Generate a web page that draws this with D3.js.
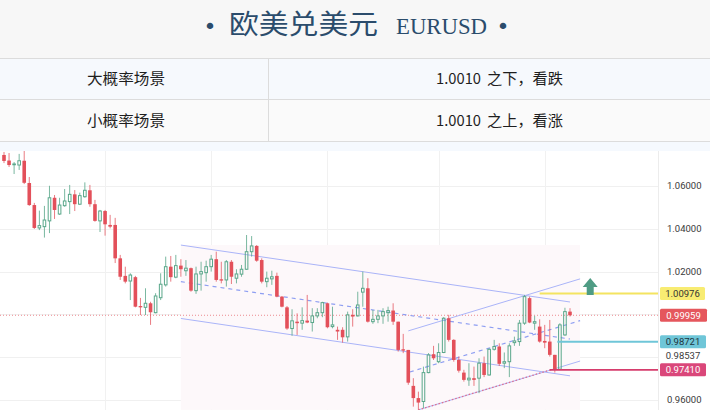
<!DOCTYPE html>
<html><head><meta charset="utf-8">
<script src="https://cdn.jsdelivr.net/npm/d3@7"></script>
<style>html,body{margin:0;padding:0;background:#fff;overflow:hidden}</style>
</head><body><svg id="c" width="710" height="410"></svg>
<script>
// ---------- data ----------
const titleCn = "欧美兑美元";
const titleCode = "EURUSD";
const scenarioNames = ["大概率场景", "小概率场景"];
const scenarioLevels = ["1.0010", "1.0010"];
const scenarioViews = ["之下，看跌", "之上，看涨"];

const opens = [1.0745,1.0719,1.0700,1.0698,1.0718,1.0614,1.0511,1.0404,1.0410,1.0437,1.0545,1.0469,1.0508,1.0527,1.0561,1.0515,1.0550,1.0580,1.0515,1.0437,1.0483,1.0418,1.0418,1.0262,1.0180,1.0156,1.0174,1.0039,1.0033,1.0052,1.0008,1.0078,1.0138,1.0223,1.0174,1.0228,1.0204,1.0216,1.0111,1.0189,1.0195,1.0223,1.0258,1.0164,1.0161,1.0246,1.0169,1.0188,1.0211,1.0293,1.0320,1.0254,1.0153,1.0166,1.0180,1.0083,1.0033,0.9934,0.9966,0.9959,0.9971,0.9962,0.9993,1.0008,1.0052,0.9943,0.9928,0.9928,0.9895,0.9998,0.9993,1.0104,1.0122,0.9966,0.9977,0.9993,1.0008,1.0018,0.9966,0.9837,0.9834,0.9666,0.9609,0.9593,0.9728,0.9814,0.9779,0.9822,0.9982,0.9881,0.9787,0.9728,0.9694,0.9702,0.9702,0.9772,0.9717,0.9837,0.9850,0.9772,0.9779,0.9868,0.9873,0.9959,1.0076,0.9959,0.9943,0.9876,0.9873,0.9811,0.9744,0.9904,1.0013];
const highs = [1.0759,1.0754,1.0712,1.0750,1.0764,1.0642,1.0521,1.0485,1.0507,1.0601,1.0558,1.0545,1.0586,1.0605,1.0581,1.0569,1.0617,1.0605,1.0535,1.0488,1.0488,1.0465,1.0451,1.0278,1.0223,1.0192,1.0180,1.0077,1.0122,1.0059,1.0099,1.0192,1.0270,1.0273,1.0278,1.0258,1.0254,1.0219,1.0223,1.0246,1.0251,1.0278,1.0293,1.0246,1.0254,1.0254,1.0211,1.0231,1.0371,1.0366,1.0324,1.0262,1.0200,1.0204,1.0195,1.0086,1.0039,1.0024,1.0005,1.0033,1.0091,1.0029,1.0029,1.0059,1.0055,1.0036,0.9943,0.9940,1.0013,1.0024,1.0106,1.0200,1.0169,1.0021,1.0021,1.0029,1.0036,1.0052,0.9966,0.9909,0.9834,0.9702,0.9639,0.9756,0.9819,0.9853,0.9865,0.9987,0.9998,0.9884,0.9803,0.9741,0.9772,0.9756,0.9795,0.9803,0.9842,0.9881,0.9865,0.9822,0.9865,0.9896,0.9974,1.0091,1.0083,0.9993,0.9977,0.9951,0.9974,0.9811,0.9959,1.0031,1.0029];
const lows = [1.0707,1.0689,1.0656,1.0675,1.0609,1.0507,1.0399,1.0394,1.0359,1.0380,1.0446,1.0465,1.0503,1.0469,1.0483,1.0511,1.0545,1.0503,1.0433,1.0385,1.0368,1.0402,1.0240,1.0161,1.0145,1.0067,1.0033,0.9997,0.9997,0.9951,1.0005,1.0067,1.0130,1.0153,1.0169,1.0176,1.0180,1.0106,1.0096,1.0111,1.0153,1.0200,1.0153,1.0145,1.0130,1.0142,1.0145,1.0176,1.0208,1.0270,1.0246,1.0145,1.0127,1.0138,1.0080,1.0033,0.9928,0.9900,0.9904,0.9928,0.9959,0.9920,0.9982,0.9987,0.9935,0.9935,0.9881,0.9868,0.9873,0.9943,0.9990,1.0036,0.9962,0.9956,0.9959,0.9956,0.9966,0.9951,0.9826,0.9819,0.9671,0.9569,0.9554,0.9562,0.9725,0.9787,0.9772,0.9819,0.9873,0.9779,0.9728,0.9686,0.9666,0.9666,0.9632,0.9707,0.9714,0.9831,0.9759,0.9749,0.9707,0.9853,0.9853,0.9951,0.9959,0.9928,0.9868,0.9842,0.9803,0.9728,0.9741,0.9900,0.9990];
const closes = [1.0717,1.0698,1.0703,1.0718,1.0615,1.0511,1.0404,1.0415,1.0441,1.0545,1.0488,1.0511,1.0530,1.0561,1.0515,1.0555,1.0580,1.0515,1.0437,1.0483,1.0421,1.0410,1.0262,1.0176,1.0153,1.0184,1.0036,1.0033,1.0052,1.0010,1.0086,1.0141,1.0223,1.0174,1.0228,1.0211,1.0216,1.0111,1.0189,1.0200,1.0223,1.0258,1.0161,1.0158,1.0246,1.0176,1.0189,1.0211,1.0293,1.0320,1.0251,1.0153,1.0169,1.0176,1.0083,1.0036,0.9934,0.9970,0.9959,0.9971,0.9962,0.9993,1.0008,1.0055,0.9940,0.9951,0.9920,0.9893,0.9998,0.9990,1.0044,1.0122,0.9966,0.9977,0.9993,1.0013,1.0018,0.9966,0.9834,0.9831,0.9681,0.9609,0.9588,0.9728,0.9811,0.9795,0.9822,0.9982,0.9881,0.9787,0.9737,0.9694,0.9702,0.9694,0.9772,0.9717,0.9837,0.9850,0.9769,0.9779,0.9853,0.9876,0.9959,1.0083,0.9962,0.9966,0.9873,0.9868,0.9811,0.9741,0.9951,1.0013,0.99959];

const yTicks = [1.06, 1.04, 1.02, 1.00, 0.98, 0.96];
const yTickLabels = ["1.06000", "1.04000", "1.02000", "", "", "0.96000"];
const monthStartIdx = [20, 41, 64, 86, 107];

// horizontal price levels
const levelValues = [1.00976, 0.99959, 0.98721, 0.97410];
const levelLabels = ["1.00976", "0.99959", "0.98721", "0.97410"];
const levelStartIdx = [106, null, 109.5, 108];
const extraValue = 0.98537;
const extraLabel = "0.98537";

// trend lines [idx0, price0, idx1, price1]
const descUpper = [35, 1.0324, 112, 1.0058];
const descMid   = [35, 1.0153, 112, 0.9885];
const descLower = [35, 0.9981, 112, 0.9713];
const riseUpper = [80, 0.9923, 114, 1.0166];
const riseMid   = [80.3, 0.9731, 114, 0.9971];
const riseLower = [82, 0.9554, 114, 0.9782];
const riseLowerDotted = [82, 0.9554, 108.5, 0.9743];
const arrowAt = [116, 1.0091];

// ---------- layout ----------
const svg = d3.select("#c");
const W = 710, H = 410;
const plotTop = 151, plotRight = 658;

// header & table backgrounds
svg.append("rect").attr("x",0).attr("y",0).attr("width",W).attr("height",58).attr("fill","#f7f7f7");
svg.append("rect").attr("x",0).attr("y",58).attr("width",W).attr("height",41).attr("fill","#f6f9fd");
svg.append("rect").attr("x",0).attr("y",99).attr("width",W).attr("height",42).attr("fill","#fafafa");
svg.append("rect").attr("x",0).attr("y",141).attr("width",W).attr("height",plotTop-141).attr("fill","#f5f9fe");
svg.append("rect").attr("x",0).attr("y",plotTop).attr("width",W).attr("height",H-plotTop).attr("fill","#ffffff");
[58.5, 99.5, 141.5].forEach(y => svg.append("line").attr("x1",0).attr("x2",W).attr("y1",y).attr("y2",y).attr("stroke","#dcdcdc"));
svg.append("line").attr("x1",268.5).attr("x2",268.5).attr("y1",58).attr("y2",141).attr("stroke","#dcdcdc");

// title
const tc = "#2b4c6c";
svg.append("text").attr("x",210).attr("y",34).attr("text-anchor","middle").attr("fill",tc)
  .style("font","22px 'DejaVu Sans'").text("•");
svg.append("text").attr("x",229).attr("y",34).attr("fill",tc)
  .attr("textLength",149).attr("lengthAdjust","spacingAndGlyphs")
  .style("font","27px 'Noto Sans CJK SC'").text(titleCn);
svg.append("text").attr("x",396).attr("y",33.5).attr("fill",tc)
  .attr("textLength",91).attr("lengthAdjust","spacingAndGlyphs")
  .style("font","24px 'Liberation Serif'").text(titleCode);
svg.append("text").attr("x",503).attr("y",34).attr("text-anchor","middle").attr("fill",tc)
  .style("font","22px 'DejaVu Sans'").text("•");

// table text
const rowCy = [78.5, 120];
scenarioNames.forEach((s,k) => {
  svg.append("text").attr("x",87).attr("y",rowCy[k]+5.5).attr("fill","#1e1e1e")
    .attr("textLength",78).attr("lengthAdjust","spacingAndGlyphs")
    .style("font","15px 'Noto Sans CJK SC'").text(s);
  svg.append("text").attr("x",436).attr("y",rowCy[k]+5.5).attr("fill","#1e1e1e")
    .attr("textLength",45).attr("lengthAdjust","spacingAndGlyphs")
    .style("font","15px 'Noto Sans CJK SC'").text(scenarioLevels[k]);
  svg.append("text").attr("x",487).attr("y",rowCy[k]+5.5).attr("fill","#1e1e1e")
    .attr("textLength",76).attr("lengthAdjust","spacingAndGlyphs")
    .style("font","15px 'Noto Sans CJK SC'").text(scenarioViews[k]);
});

// ---------- scales ----------
const n = closes.length;
const x = d3.scaleLinear().domain([0, n-1]).range([4, 570]);
const y = d3.scaleLinear().domain([0.96, 1.06]).range([400, 186]);

svg.append("defs").append("clipPath").attr("id","plot")
  .append("rect").attr("x",0).attr("y",plotTop).attr("width",plotRight).attr("height",H-plotTop);
const g = svg.append("g").attr("clip-path","url(#plot)");

// grid
g.selectAll(".hg").data(yTicks).enter().append("line")
  .attr("x1",0).attr("x2",plotRight).attr("y1",d=>Math.round(y(d))+0.5).attr("y2",d=>Math.round(y(d))+0.5)
  .attr("stroke","#f0f0f0");
g.selectAll(".vg").data(monthStartIdx).enter().append("line")
  .attr("x1",d=>Math.round(x(d))+0.5).attr("x2",d=>Math.round(x(d))+0.5).attr("y1",plotTop).attr("y2",H)
  .attr("stroke","#f1f1f1");
svg.append("line").attr("x1",plotRight+0.5).attr("x2",plotRight+0.5).attr("y1",plotTop).attr("y2",H).attr("stroke","#ececec");

// pattern bounding box
const pats = [descUpper, descMid, descLower, riseUpper, riseMid, riseLower];
const allIdx = pats.flatMap(p => [p[0], p[2]]);
const allPx = pats.flatMap(p => [p[1], p[3]]);
g.append("rect")
  .attr("x", x(d3.min(allIdx))).attr("width", x(d3.max(allIdx)) - x(d3.min(allIdx)))
  .attr("y", y(d3.max(allPx))).attr("height", y(d3.min(allPx)) - y(d3.max(allPx)))
  .attr("fill","#fdf8fa");

// last price dotted line
g.append("line").attr("x1",0).attr("x2",plotRight)
  .attr("y1",y(levelValues[1])).attr("y2",y(levelValues[1]))
  .attr("stroke","#ec8a8f").attr("stroke-width",1).attr("stroke-dasharray","1,2");

// trend lines
const chan = "#aab4f8";
function tline(p, color, dash, w) {
  g.append("line").attr("x1",x(p[0])).attr("y1",y(p[1])).attr("x2",x(p[2])).attr("y2",y(p[3]))
    .attr("stroke",color).attr("stroke-width",w||1).attr("stroke-dasharray",dash||null);
}
tline(descUpper, chan); tline(descLower, chan); tline(descMid, "#8e9ef2", "4,4", 1.2);
tline(riseUpper, chan); tline(riseLower, chan); tline(riseMid, "#8e9ef2", "4,4", 1.2);
tline(riseLowerDotted, "#e0708f", "1.5,2", 1.3);

// candles
const red = "#e3505a", green = "#59a78a";
const bw = 3.6;
const candles = d3.range(n).map(i => ({i, o:opens[i], h:highs[i], l:lows[i], c:closes[i]}));
const cg = g.append("g");
candles.forEach(d => {
  const cx = x(d.i);
  const up = d.c >= d.o;
  const top = y(Math.max(d.o,d.c)), bot = y(Math.min(d.o,d.c));
  if (up) {
    cg.append("line").attr("x1",cx).attr("x2",cx).attr("y1",y(d.h)).attr("y2",top).attr("stroke",green).attr("opacity",0.8);
    cg.append("line").attr("x1",cx).attr("x2",cx).attr("y1",bot).attr("y2",y(d.l)).attr("stroke",green).attr("opacity",0.8);
    cg.append("rect").attr("x",cx-bw/2+0.5).attr("y",top).attr("width",bw-1).attr("height",Math.max(0.8,bot-top))
      .attr("fill","none").attr("stroke",green).attr("stroke-width",1);
  } else {
    cg.append("line").attr("x1",cx).attr("x2",cx).attr("y1",y(d.h)).attr("y2",y(d.l)).attr("stroke",red).attr("opacity",0.75);
    cg.append("rect").attr("x",cx-bw/2).attr("y",top).attr("width",bw).attr("height",Math.max(1.2,bot-top))
      .attr("fill",red);
  }
});

// horizontal level lines
const levelColors = ["#f4e460", null, "#6fc6d8", "#d63d6d"];
levelValues.forEach((v,k) => {
  if (levelStartIdx[k] === null) return;
  g.append("line").attr("x1",x(levelStartIdx[k])).attr("x2",plotRight)
    .attr("y1",y(v)).attr("y2",y(v)).attr("stroke",levelColors[k]).attr("stroke-width",1.8);
});

// arrow
const ax = x(arrowAt[0]), ay = y(arrowAt[1]);
svg.append("path")
  .attr("d", `M${ax-3.5},${ay} L${ax-3.5},${ay-8} L${ax-7.5},${ay-8} L${ax},${ay-17} L${ax+7.5},${ay-8} L${ax+3.5},${ay-8} L${ax+3.5},${ay} Z`)
  .attr("fill","#4f9c84");

// y tick labels
const fnt = "9.5px Roboto";
yTicks.forEach((t,k) => {
  if (!yTickLabels[k]) return;
  svg.append("text").attr("x",667).attr("y",y(t)).attr("dy","0.35em").attr("fill","#3a3a3a")
    .style("font",fnt).text(yTickLabels[k]);
});

// level labels
const boxFill = ["#f8ec72", "#e5575d", "#6fc6d8", "#da477a"];
const boxText = ["#333333", "#ffffff", "#1d3440", "#ffffff"];
const boxW = [45, 47, 46, 46];
levelValues.forEach((v,k) => {
  const cy = y(v);
  svg.append("rect").attr("x",660).attr("y",cy-6.5).attr("width",boxW[k]).attr("height",13).attr("rx",1.5)
    .attr("fill",boxFill[k]);
  svg.append("text").attr("x",660+boxW[k]/2).attr("y",cy).attr("dy","0.35em").attr("text-anchor","middle")
    .attr("fill",boxText[k]).style("font",fnt).text(levelLabels[k]);
});
const exY = Math.max(y(extraValue), y(levelValues[2]) + 13.5);
svg.append("text").attr("x",683).attr("y",exY).attr("dy","0.35em").attr("text-anchor","middle")
  .attr("fill","#3a3a3a").style("font",fnt).text(extraLabel);
</script>
</body></html>
